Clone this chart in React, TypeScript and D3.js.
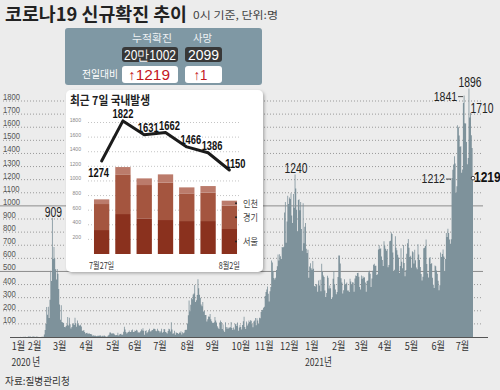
import React from "react";
import * as d3 from "d3";

// 일별 신규확진 (발표일 0시 기준), 2020-01-20 ~ 2021-08-02
const firstDay = "2020-01-20";
const jan2020 = [1, 0, 0, 0, 1, 0, 1, 1, 0, 0, 2, 5];
const feb2020 = [1, 3, 0, 1, 3, 4, 1, 0, 3, 2, 1, 0, 0, 0, 0, 1, 1, 1, 20, 53, 100, 229, 169, 231, 144, 284, 505, 427, 909];
const mar2020 = [595, 686, 600, 516, 438, 518, 483, 367, 248, 131, 242, 114, 110, 107, 76, 74, 84, 93, 152, 87, 147, 98, 64, 76, 100, 104, 91, 146, 105, 78, 125];
const apr2020 = [101, 89, 86, 94, 81, 47, 47, 53, 39, 27, 30, 32, 25, 27, 27, 22, 22, 18, 8, 13, 9, 11, 8, 6, 10, 10, 10, 14, 9, 4];
const may2020 = [9, 6, 13, 8, 3, 2, 4, 12, 18, 34, 35, 27, 26, 29, 27, 19, 13, 15, 13, 32, 12, 20, 23, 25, 16, 19, 40, 79, 58, 39, 27];
const jun2020 = [35, 38, 49, 39, 39, 51, 57, 38, 38, 50, 45, 56, 49, 34, 37, 34, 43, 59, 49, 67, 48, 17, 46, 51, 28, 39, 51, 62, 42, 43];
const jul2020 = [51, 54, 63, 63, 61, 48, 44, 62, 50, 45, 35, 44, 62, 33, 39, 61, 60, 39, 34, 26, 45, 63, 59, 41, 113, 58, 25, 28, 48, 18, 36];
const aug2020 = [31, 30, 23, 34, 33, 43, 20, 36, 28, 34, 54, 56, 56, 103, 166, 279, 197, 246, 297, 288, 324, 332, 397, 266, 280, 320, 441, 371, 323, 299, 248];
const sep2020 = [235, 267, 195, 198, 168, 167, 119, 136, 156, 155, 176, 136, 121, 109, 106, 113, 153, 126, 110, 82, 70, 61, 110, 125, 114, 61, 95, 50, 38, 113];
const oct2020 = [77, 63, 75, 64, 73, 75, 114, 69, 54, 72, 58, 97, 102, 84, 110, 47, 73, 91, 76, 58, 91, 121, 155, 77, 61, 119, 88, 103, 125, 114, 127];
const nov2020 = [124, 97, 75, 118, 125, 145, 89, 143, 126, 100, 146, 143, 191, 205, 208, 223, 230, 313, 343, 363, 386, 330, 271, 349, 382, 583, 569, 504, 450, 438];
const dec2020 = [451, 511, 540, 629, 583, 631, 615, 594, 686, 682, 689, 950, 1030, 718, 880, 1078, 1014, 1064, 1053, 1097, 926, 869, 1090, 985, 1240, 1132, 970, 807, 1045, 1050, 967];
const jan2021 = [1029, 824, 657, 1020, 715, 840, 869, 674, 641, 665, 451, 537, 562, 524, 513, 580, 520, 389, 386, 404, 400, 346, 431, 392, 437, 349, 559, 497, 469, 458, 355];
const feb2021 = [305, 336, 467, 451, 370, 393, 372, 289, 303, 444, 504, 403, 362, 326, 344, 457, 621, 621, 561, 448, 416, 332, 356, 440, 396, 406, 415, 355];
const mar2021 = [355, 344, 444, 424, 398, 418, 416, 346, 446, 470, 465, 488, 490, 459, 382, 363, 469, 445, 463, 452, 456, 415, 346, 428, 430, 494, 505, 482, 382, 447, 506];
const apr2021 = [551, 558, 543, 543, 473, 478, 668, 700, 671, 677, 614, 587, 542, 731, 698, 673, 658, 672, 532, 549, 731, 735, 797, 785, 644, 500, 512, 769, 680, 661];
const may2021 = [627, 606, 488, 541, 676, 574, 525, 701, 564, 463, 511, 635, 715, 747, 681, 610, 619, 528, 654, 646, 561, 666, 585, 530, 516, 707, 629, 587, 533, 480, 430];
const jun2021 = [459, 677, 681, 695, 744, 556, 485, 454, 602, 610, 556, 565, 452, 399, 373, 545, 540, 507, 482, 429, 357, 395, 645, 610, 634, 668, 614, 501, 595, 794];
const jul2021 = [762, 826, 794, 743, 711, 746, 1212, 1275, 1316, 1378, 1324, 1100, 1150, 1615, 1600, 1536, 1452, 1454, 1252, 1278, 1784, 1841, 1630, 1629, 1487, 1318, 1365, 1896, 1674, 1710, 1539];
const aug2021 = [1442, 1219];

const yTicks = [100, 200, 300, 400, 500, 600, 700, 800, 900, 1000, 1100, 1200, 1300, 1400, 1500, 1600, 1700, 1800];
const solidTicks = [500, 1000];

// month labels and the date each label is centred on
const monthLabels = ["1월", "2월", "3월", "4월", "5월", "6월", "7월", "8월", "9월", "10월", "11월", "12월", "1월", "2월", "3월", "4월", "5월", "6월", "7월"];
const monthLabelDates = ["2020-01-18", "2020-02-07", "2020-03-09", "2020-04-11", "2020-05-14", "2020-06-10", "2020-07-11", "2020-08-14", "2020-09-14", "2020-10-19", "2020-11-17", "2020-12-18", "2021-01-15", "2021-02-17", "2021-03-17", "2021-04-15", "2021-05-18", "2021-06-20", "2021-07-20"];
const yearLabels = ["2020 년", "2021년"];
const yearLabelDates = ["2020-01-18", "2021-01-15"];

// annotated peaks
const peakDates = ["2020-02-29", "2020-12-25", "2021-07-07", "2021-07-22", "2021-07-28", "2021-07-30", "2021-08-02"];
const peakPlacement = ["top", "top", "left", "left", "top", "right", "last"];

// summary box
const summaryHeads = ["누적확진", "사망"];
const summaryTotals = ["20만1002", "2099"];
const summaryDiffs = ["1219", "1"];

// 최근 7일 국내발생
const recentDays = ["7월27일", "7월28일", "7월29일", "7월30일", "7월31일", "8월1일", "8월2일"];
const recentDomestic = [1274, 1822, 1631, 1662, 1466, 1386, 1150];
const recentSeoul = [328, 547, 488, 465, 451, 451, 342];
const recentGyeonggi = [356, 543, 456, 511, 379, 388, 319];
const recentIncheon = [64, 100, 91, 114, 82, 91, 69];
const regionKeys = ["서울", "경기", "인천"];
const insetTicks = [200, 400, 600, 800, 1000, 1200, 1400, 1600, 1800];

const KR = "'Noto Sans CJK KR', sans-serif";
const NUM = "'Liberation Sans', Arial, sans-serif";
const regionColor: Record<string, string> = { 서울: "#8a311e", 경기: "#a4553f", 인천: "#bb7b6b" };

const T = ({ x, y, sx = 1, anchor = "start", size, weight = 400, fill = "#333", family = NUM, children }: any) => (
  <text
    transform={`translate(${x},${y}) scale(${sx},1)`}
    textAnchor={anchor}
    fontSize={size}
    fontWeight={weight}
    fill={fill}
    fontFamily={family}
  >
    {children}
  </text>
);

export default function App() {
  const parse = d3.timeParse("%Y-%m-%d");
  const daily = [
    ...jan2020, ...feb2020, ...mar2020, ...apr2020, ...may2020, ...jun2020, ...jul2020, ...aug2020,
    ...sep2020, ...oct2020, ...nov2020, ...dec2020, ...jan2021, ...feb2021, ...mar2021, ...apr2021,
    ...may2021, ...jun2021, ...jul2021, ...aug2021,
  ];
  const start = parse(firstDay)!;
  const dates = daily.map((_, i) => d3.timeDay.offset(start, i));
  const valueOn = (s: string) => daily[d3.timeDay.count(start, parse(s)!)];

  const x = d3.scaleTime().domain([start, dates[dates.length - 1]]).range([20, 473]);
  const y = d3.scaleLinear().domain([0, 1800]).range([337, 101]);
  const area = d3
    .area<number>()
    .x((_, i) => x(dates[i]))
    .y0(y(0))
    .y1((d) => y(d))
    .curve(d3.curveStep);

  // inset
  const xb = d3.scaleBand<number>().domain(d3.range(recentDays.length)).range([91, 240]).paddingInner(0.28).paddingOuter(0.14);
  const yi = d3.scaleLinear().domain([0, 1800]).range([254, 122.5]);
  const rows = recentDays.map((_, i) => ({ 서울: recentSeoul[i], 경기: recentGyeonggi[i], 인천: recentIncheon[i] }));
  const stacked = d3.stack<any>().keys(regionKeys)(rows);
  const cx = (i: number) => xb(i)! + xb.bandwidth() / 2;
  const line = d3
    .line<number>()
    .x((_, i) => cx(i))
    .y((d) => yi(d));
  const last = recentDays.length - 1;

  const colX = [150, 203.5];
  const colW = [56, 37];

  return (
    <svg width={500} height={390} style={{ position: "fixed", left: 0, top: 0, background: "#ececec" }}>
      <defs>
        <filter id="sh" x="-10%" y="-10%" width="125%" height="125%">
          <feDropShadow dx="1.5" dy="1.5" stdDeviation="1.5" floodColor="#000" floodOpacity="0.28" />
        </filter>
      </defs>
      <rect width={500} height={390} fill="#ececec" />

      {/* title */}
      <text x={5} y={21} fontSize={18} fontWeight={700} fill="#222" fontFamily={KR} textLength={182} lengthAdjust="spacingAndGlyphs">
        코로나19 신규확진 추이
      </text>
      <text x={193} y={19} fontSize={10.5} fill="#444" fontFamily={KR} textLength={85} lengthAdjust="spacingAndGlyphs">
        0시 기준, 단위:명
      </text>

      {/* grid */}
      {yTicks.map((v) =>
        solidTicks.includes(v) ? (
          <line key={v} x1={0} x2={483} y1={y(v)} y2={y(v)} stroke="#8c8c8c" strokeWidth={1} />
        ) : (
          <line key={v} x1={3} x2={483} y1={y(v)} y2={y(v)} stroke="#9a9a9a" strokeWidth={1} strokeDasharray="1,2" />
        )
      )}
      {yTicks.map((v) => (
        <T key={"l" + v} x={3} y={y(v) - 1} sx={0.85} size={9} fill="#555">
          {v}
        </T>
      ))}

      {/* daily bars */}
      <path d={area(daily)!} fill="#7e929b" />
      <line x1={10} x2={488} y1={y(0) + 0.5} y2={y(0) + 0.5} stroke="#555" strokeWidth={1.2} />

      {/* month axis */}
      {monthLabels.map((m, i) => (
        <T key={"m" + i} x={x(parse(monthLabelDates[i])!)} y={350} sx={0.83} anchor="middle" size={11} fill="#333" family={KR}>
          {m}
        </T>
      ))}
      {yearLabels.map((m, i) => (
        <T key={"yr" + i} x={x(parse(yearLabelDates[i])!) - 7} y={366} sx={0.78} size={11} fill="#333" family={KR}>
          {m}
        </T>
      ))}
      <T x={5} y={385} sx={0.92} size={10.5} fill="#333" family={KR}>
        자료:질병관리청
      </T>

      {/* peak annotations */}
      {peakDates.map((s, i) => {
        const v = valueOn(s);
        const px = x(parse(s)!);
        const py = y(v);
        const p = peakPlacement[i];
        if (p === "top")
          return (
            <T key={s} x={px + 1} y={py - 1} sx={0.74} anchor="middle" size={14} fill="#222">
              {v}
            </T>
          );
        if (p === "left")
          return (
            <g key={s}>
              <line x1={px - 6} x2={px - 1} y1={py + 1} y2={py + 1} stroke="#444" strokeWidth={1} />
              <T x={px - 7} y={py + 5} sx={0.78} anchor="end" size={13.5} fill="#222">
                {v}
              </T>
            </g>
          );
        if (p === "right")
          return (
            <T key={s} x={px} y={py} sx={0.74} size={14} fill="#222">
              {v}
            </T>
          );
        return (
          <g key={s}>
            <circle cx={px} cy={py + 1} r={1.8} fill="#fff" stroke="#333" strokeWidth={0.9} />
            <T x={px + 1} y={py + 5} sx={0.8} size={15} weight={700} fill="#111">
              {v}
            </T>
          </g>
        );
      })}

      {/* summary box */}
      <rect x={65} y={28} width={197} height={57} rx={3} fill="#7f98a4" />
      {summaryHeads.map((h, i) => (
        <text key={h} x={colX[i] + (i === 0 ? 2 : -1)} y={42} textAnchor="middle" fontSize={10.5} fill="#eef2f4" fontFamily={KR}
          textLength={i === 0 ? 40 : 19} lengthAdjust="spacingAndGlyphs">
          {h}
        </text>
      ))}
      {summaryTotals.map((t, i) => (
        <g key={t}>
          <rect x={colX[i] - colW[i] / 2} y={47} width={colW[i]} height={15} rx={3} fill="#383838" />
          <text x={colX[i]} y={59.5} textAnchor="middle" fontSize={14} fill="#fff" fontFamily={NUM}
            textLength={i === 0 ? 52 : 31} lengthAdjust="spacingAndGlyphs">
            {t}
          </text>
        </g>
      ))}
      <text x={82} y={78} fontSize={10.5} fill="#fff" fontFamily={KR} textLength={36} lengthAdjust="spacingAndGlyphs">
        전일대비
      </text>
      {summaryDiffs.map((t, i) => (
        <g key={"d" + i}>
          <rect x={colX[i] - colW[i] / 2} y={66} width={colW[i]} height={17} rx={3} fill="#fff" />
          <text x={colX[i] - (i === 0 ? 1 : 3)} y={79.5} textAnchor="middle" fontSize={14} fill="#c3161f" fontFamily={NUM}
            textLength={i === 0 ? 42 : 14} lengthAdjust="spacingAndGlyphs">
            <tspan fontWeight={700}>↑</tspan>
            {t}
          </text>
        </g>
      ))}

      {/* inset: 최근 7일 국내발생 */}
      <rect x={66} y={90} width={197} height={182} rx={5} fill="#fff" filter="url(#sh)" />
      <text x={70} y={105} fontSize={12} fontWeight={700} fill="#222" fontFamily={KR} textLength={80} lengthAdjust="spacingAndGlyphs">
        최근 7일 국내발생
      </text>
      {insetTicks.map((v) => (
        <g key={"it" + v}>
          <line x1={88} x2={241} y1={yi(v)} y2={yi(v)} stroke="#b5b5b5" strokeWidth={0.8} strokeDasharray="1,2" />
          <T x={81} y={yi(v) - 0.5} sx={0.85} anchor="end" size={6} fill="#888">
            {v}
          </T>
        </g>
      ))}
      {stacked.map((s) =>
        s.map((d, i) => (
          <rect key={s.key + i} x={xb(i)} width={xb.bandwidth()} y={yi(d[1])} height={yi(d[0]) - yi(d[1])} fill={regionColor[s.key]} />
        ))
      )}
      {stacked.map((s) => {
        const d = s[last];
        const my = (yi(d[0]) + yi(d[1])) / 2;
        return (
          <g key={"rk" + s.key}>
            <circle cx={xb(last)! + xb.bandwidth() - 1} cy={my} r={1} fill="#222" />
            <text x={243} y={my + 3.5} fontSize={9.5} fill="#444" fontFamily={KR} textLength={15} lengthAdjust="spacingAndGlyphs">
              {s.key === "서울" ? "서울" : s.key === "경기" ? "경기" : "인천"}
            </text>
          </g>
        );
      })}
      <path d={line(recentDomestic)!} fill="none" stroke="#1b1b1b" strokeWidth={3} strokeLinejoin="round" strokeLinecap="round" />
      {recentDomestic.map((v, i) => (
        <T
          key={"rv" + i}
          x={cx(i) + (i === 0 ? -3 : i === 1 ? 0 : i === last ? 6 : 4)}
          y={yi(v) + (i === 0 ? 16 : i === last ? -2 : -3)}
          sx={0.78}
          anchor="middle"
          size={12}
          weight={700}
          fill="#111"
        >
          {v}
        </T>
      ))}
      {[0, last].map((i) => (
        <T key={"rd" + i} x={cx(i)} y={269} sx={0.8} anchor="middle" size={9} fill="#333" family={KR}>
          {recentDays[i]}
        </T>
      ))}
    </svg>
  );
}
